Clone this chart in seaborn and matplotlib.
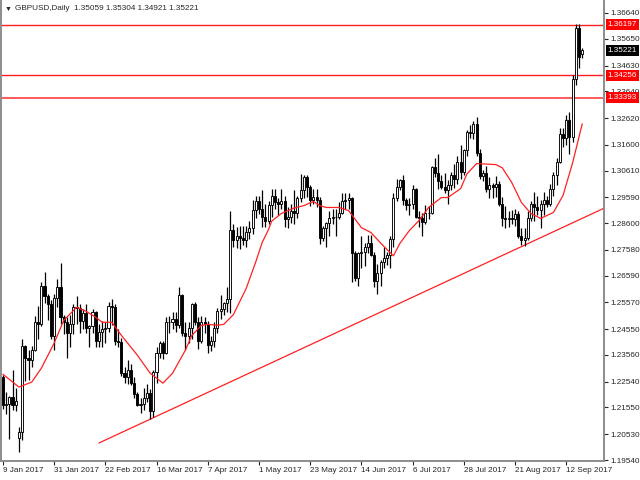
import numpy as np
import pandas as pd
import matplotlib
matplotlib.use("Agg")
import matplotlib.pyplot as plt
import matplotlib.transforms as mtransforms
import seaborn as sns

# GBPUSD daily bars, 9 Jan 2017 .. 19 Sep 2017
dates = pd.bdate_range("2017-01-09", "2017-09-19")

opens = [
    1.2270, 1.2165, 1.2170, 1.2195, 1.2165,  1.2040, 1.2060, 1.2390, 1.2345, 1.2335,
    1.2375, 1.2480, 1.2475, 1.2620, 1.2580,  1.2550, 1.2430, 1.2575, 1.2615, 1.2500,
    1.2480, 1.2440, 1.2475, 1.2540, 1.2535,  1.2485, 1.2515, 1.2460, 1.2465, 1.2520,
    1.2410, 1.2445, 1.2455, 1.2460, 1.2545,  1.2540, 1.2410, 1.2405, 1.2285, 1.2270,
    1.2300, 1.2250, 1.2205, 1.2165, 1.2170,  1.2190, 1.2210, 1.2140, 1.2290, 1.2365,
    1.2400, 1.2365, 1.2480, 1.2480, 1.2495,  1.2470, 1.2585, 1.2440, 1.2430, 1.2460,
    1.2550, 1.2480, 1.2410, 1.2480, 1.2475,  1.2395, 1.2410, 1.2460, 1.2525, 1.2530,
    1.2555, 1.2570, 1.2835, 1.2795, 1.2810,  1.2805, 1.2795, 1.2825, 1.2840, 1.2910,
    1.2945, 1.2915, 1.2885, 1.2870, 1.2930,  1.2965, 1.2940, 1.2935, 1.2945, 1.2875,
    1.2885, 1.2905, 1.2900, 1.2955, 1.2985,  1.3035, 1.3000, 1.2950, 1.2960, 1.2950,
    1.2805, 1.2840, 1.2860, 1.2880, 1.2885,  1.2885, 1.2900, 1.2945, 1.2950, 1.2955,
    1.2745, 1.2650, 1.2745, 1.2750, 1.2770,  1.2785, 1.2740, 1.2640, 1.2670, 1.2710,
    1.2725, 1.2740, 1.2800, 1.2955, 1.3000,  1.3025, 1.2950, 1.2930, 1.2935, 1.2990,
    1.2885, 1.2880, 1.2865, 1.2900, 1.2900,  1.3075, 1.3050, 1.3020, 1.3000, 1.2985,
    1.3005, 1.3045, 1.3030, 1.3095, 1.3055,  1.3140, 1.3210, 1.3205, 1.3240, 1.3130,
    1.3040, 1.3050, 1.2990, 1.3005, 1.3000,  1.3010, 1.2935, 1.2880, 1.2875, 1.2880,
    1.2875, 1.2895, 1.2810, 1.2795, 1.2805,  1.2880, 1.2935, 1.2920, 1.2910, 1.2935,
    1.2950, 1.2935, 1.2990, 1.3045, 1.3095,  1.3200, 1.3185, 1.3255, 1.3190, 1.3410,
    1.3605, 1.35059,
]
highs = [
    1.2280, 1.2215, 1.2200, 1.2300, 1.2230,  1.2080, 1.2417, 1.2395, 1.2375, 1.2390,
    1.2505, 1.2545, 1.2635, 1.2675, 1.2590,  1.2565, 1.2590, 1.2645, 1.2706, 1.2510,
    1.2500, 1.2510, 1.2550, 1.2580, 1.2550,  1.2530, 1.2550, 1.2470, 1.2530, 1.2525,
    1.2475, 1.2485, 1.2480, 1.2560, 1.2570,  1.2550, 1.2455, 1.2420, 1.2310, 1.2335,
    1.2320, 1.2270, 1.2215, 1.2190, 1.2230,  1.2245, 1.2225, 1.2300, 1.2385, 1.2410,
    1.2410, 1.2500, 1.2505, 1.2520, 1.2520,  1.2615, 1.2590, 1.2480, 1.2480, 1.2555,
    1.2560, 1.2500, 1.2505, 1.2500, 1.2485,  1.2430, 1.2480, 1.2535, 1.2585, 1.2560,
    1.2615, 1.2905, 1.2855, 1.2845, 1.2850,  1.2850, 1.2850, 1.2870, 1.2950, 1.2965,
    1.2965, 1.2985, 1.2935, 1.2945, 1.2990,  1.2990, 1.2955, 1.2990, 1.2965, 1.2920,
    1.2935, 1.2985, 1.2965, 1.3048, 1.3045,  1.3045, 1.3005, 1.2990, 1.2990, 1.2960,
    1.2850, 1.2865, 1.2905, 1.2915, 1.2915,  1.2940, 1.2975, 1.2975, 1.2975, 1.2960,
    1.2755, 1.2750, 1.2810, 1.2785, 1.2815,  1.2815, 1.2750, 1.2705, 1.2720, 1.2770,
    1.2750, 1.2810, 1.2975, 1.3030, 1.3030,  1.3045, 1.2955, 1.2955, 1.3005, 1.2995,
    1.2905, 1.2900, 1.2930, 1.2925, 1.3080,  1.3110, 1.3125, 1.3045, 1.3050, 1.3025,
    1.3055, 1.3085, 1.3115, 1.3160, 1.3145,  1.3215, 1.3235, 1.3250, 1.3267, 1.3145,
    1.3065, 1.3080, 1.3035, 1.3015, 1.3040,  1.3020, 1.2960, 1.2925, 1.2905, 1.2910,
    1.2915, 1.2905, 1.2840, 1.2840, 1.2905,  1.2945, 1.2980, 1.2965, 1.2950, 1.2980,
    1.2965, 1.3010, 1.3055, 1.3110, 1.3225,  1.3225, 1.3275, 1.3285, 1.3425, 1.3620,
    1.3620, 1.35304,
]
lows = [
    1.2150, 1.2130, 1.2035, 1.2145, 1.2140,  1.1986, 1.2030, 1.2255, 1.2260, 1.2310,
    1.2370, 1.2415, 1.2465, 1.2555, 1.2490,  1.2415, 1.2375, 1.2540, 1.2475, 1.2435,
    1.2345, 1.2385, 1.2435, 1.2475, 1.2440,  1.2455, 1.2440, 1.2385, 1.2440, 1.2385,
    1.2385, 1.2385, 1.2400, 1.2445, 1.2470,  1.2395, 1.2385, 1.2275, 1.2250, 1.2245,
    1.2240, 1.2190, 1.2160, 1.2135, 1.2145,  1.2175, 1.2110, 1.2120, 1.2250, 1.2345,
    1.2340, 1.2360, 1.2440, 1.2455, 1.2445,  1.2460, 1.2430, 1.2375, 1.2400, 1.2415,
    1.2470, 1.2380, 1.2400, 1.2440, 1.2365,  1.2370, 1.2385, 1.2440, 1.2495, 1.2510,
    1.2520, 1.2515, 1.2770, 1.2765, 1.2760,  1.2775, 1.2770, 1.2800, 1.2820, 1.2880,
    1.2895, 1.2845, 1.2845, 1.2855, 1.2885,  1.2915, 1.2890, 1.2915, 1.2845, 1.2840,
    1.2860, 1.2855, 1.2880, 1.2940, 1.2955,  1.2960, 1.2925, 1.2935, 1.2920, 1.2780,
    1.2790, 1.2770, 1.2810, 1.2855, 1.2810,  1.2875, 1.2895, 1.2915, 1.2915, 1.2635,
    1.2640, 1.2620, 1.2690, 1.2695, 1.2745,  1.2735, 1.2615, 1.2589, 1.2620, 1.2690,
    1.2700, 1.2690, 1.2770, 1.2945, 1.2985,  1.2930, 1.2910, 1.2890, 1.2915, 1.2880,
    1.2845, 1.2810, 1.2855, 1.2875, 1.2895,  1.3035, 1.2990, 1.2990, 1.2975, 1.2935,
    1.2985, 1.2995, 1.3010, 1.3030, 1.3045,  1.3115, 1.3185, 1.3180, 1.3115, 1.3030,
    1.3020, 1.2980, 1.2955, 1.2955, 1.2960,  1.2925, 1.2850, 1.2840, 1.2845, 1.2855,
    1.2850, 1.2805, 1.2775, 1.2774, 1.2795,  1.2870, 1.2870, 1.2890, 1.2840, 1.2890,
    1.2920, 1.2925, 1.2965, 1.3005, 1.3090,  1.3150, 1.3160, 1.3125, 1.3170, 1.3390,
    1.3455, 1.34921,
]
closes = [
    1.2165, 1.2170, 1.2195, 1.2165, 1.2180,  1.2060, 1.2390, 1.2345, 1.2335, 1.2375,
    1.2480, 1.2475, 1.2620, 1.2580, 1.2550,  1.2430, 1.2575, 1.2615, 1.2500, 1.2480,
    1.2440, 1.2475, 1.2540, 1.2535, 1.2485,  1.2515, 1.2460, 1.2465, 1.2520, 1.2410,
    1.2445, 1.2455, 1.2460, 1.2545, 1.2540,  1.2410, 1.2405, 1.2285, 1.2270, 1.2300,
    1.2250, 1.2205, 1.2165, 1.2170, 1.2190,  1.2210, 1.2140, 1.2290, 1.2365, 1.2400,
    1.2365, 1.2480, 1.2480, 1.2495, 1.2470,  1.2585, 1.2440, 1.2430, 1.2460, 1.2550,
    1.2480, 1.2410, 1.2480, 1.2475, 1.2395,  1.2410, 1.2460, 1.2525, 1.2530, 1.2555,
    1.2570, 1.2835, 1.2795, 1.2810, 1.2805,  1.2795, 1.2825, 1.2840, 1.2910, 1.2945,
    1.2915, 1.2885, 1.2870, 1.2930, 1.2965,  1.2940, 1.2935, 1.2945, 1.2875, 1.2885,
    1.2905, 1.2900, 1.2955, 1.2985, 1.3035,  1.3000, 1.2950, 1.2960, 1.2950, 1.2805,
    1.2840, 1.2860, 1.2880, 1.2885, 1.2885,  1.2900, 1.2945, 1.2950, 1.2955, 1.2745,
    1.2650, 1.2745, 1.2750, 1.2770, 1.2785,  1.2740, 1.2640, 1.2670, 1.2710, 1.2725,
    1.2740, 1.2800, 1.2955, 1.3000, 1.3025,  1.2950, 1.2930, 1.2935, 1.2990, 1.2885,
    1.2880, 1.2865, 1.2900, 1.2900, 1.3075,  1.3050, 1.3020, 1.3000, 1.2985, 1.3005,
    1.3045, 1.3030, 1.3095, 1.3055, 1.3140,  1.3210, 1.3205, 1.3240, 1.3130, 1.3040,
    1.3050, 1.2990, 1.3005, 1.3000, 1.3010,  1.2935, 1.2880, 1.2875, 1.2880, 1.2875,
    1.2895, 1.2810, 1.2795, 1.2805, 1.2880,  1.2935, 1.2920, 1.2910, 1.2935, 1.2950,
    1.2935, 1.2990, 1.3045, 1.3095, 1.3200,  1.3185, 1.3255, 1.3190, 1.3410, 1.3605,
    1.3495, 1.35221,
]

# moving average (red curve), sampled along the chart
ma_dates = [
    "2017-01-09", "2017-01-16", "2017-01-20", "2017-01-25", "2017-01-31", "2017-02-03",
    "2017-02-09", "2017-02-14", "2017-02-17", "2017-02-21", "2017-02-24", "2017-03-01",
    "2017-03-08", "2017-03-14", "2017-03-20", "2017-03-23", "2017-03-29", "2017-03-31",
    "2017-04-05", "2017-04-07", "2017-04-12", "2017-04-14", "2017-04-19", "2017-04-25",
    "2017-04-28", "2017-05-02", "2017-05-04", "2017-05-05", "2017-05-10", "2017-05-16",
    "2017-05-19", "2017-05-24", "2017-05-26", "2017-05-30", "2017-06-05", "2017-06-08",
    "2017-06-14", "2017-06-19", "2017-06-22", "2017-06-28", "2017-06-30", "2017-07-05",
    "2017-07-10", "2017-07-13", "2017-07-19", "2017-07-21", "2017-07-27", "2017-07-31",
    "2017-08-03", "2017-08-11", "2017-08-15", "2017-08-18", "2017-08-23", "2017-08-28",
    "2017-08-31", "2017-09-06", "2017-09-11", "2017-09-14", "2017-09-19",
]
ma_values = [
    1.2282, 1.2233, 1.2252, 1.2305, 1.2401, 1.2488,
    1.2538, 1.2523, 1.2500, 1.2481, 1.2481, 1.2431,
    1.2355, 1.2286, 1.2248, 1.2286, 1.2374, 1.2430,
    1.2469, 1.2473, 1.2469, 1.2473, 1.2510, 1.2610,
    1.2712, 1.2786, 1.2836, 1.2868, 1.2897, 1.2918,
    1.2927, 1.2943, 1.2927, 1.2920, 1.2920, 1.2908,
    1.2843, 1.2824, 1.2784, 1.2735, 1.2782, 1.2832,
    1.2870, 1.2920, 1.2958, 1.2958, 1.2992, 1.3049,
    1.3088, 1.3084, 1.3072, 1.3015, 1.2939, 1.2897,
    1.2878, 1.2901, 1.2966, 1.3091, 1.3240,
]

# support trendline anchors and horizontal levels
trend_dates = ["2017-02-20", "2017-08-24"]
trend_values = [1.2019, 1.2776]
levels = [1.36197, 1.34256, 1.33393]
last_price = 1.35221

ytick_values = [1.19540, 1.20530, 1.21550, 1.22540, 1.23560, 1.24550, 1.25570,
                1.26590, 1.27580, 1.28600, 1.29590, 1.30610, 1.31600, 1.32620,
                1.33640, 1.34630, 1.35650, 1.36640]
xtick_every = 16

sns.set_style("white")
plt.rcParams["font.family"] = ["Liberation Sans", "DejaVu Sans"]
FS = 5.9

df = pd.DataFrame({"date": dates, "open": opens, "high": highs,
                   "low": lows, "close": closes})
df["i"] = np.arange(len(df))
bull = df["close"] >= df["open"]

fig = plt.figure(figsize=(6.4, 4.8), dpi=100)
ax = fig.add_axes([1 / 640, 19 / 480, 603 / 640, 461 / 480])

# candles
ax.vlines(df["i"], df["low"], df["high"], color="black", lw=0.9, zorder=3)
body_lo = np.minimum(df["open"], df["close"])
body_h = (df["close"] - df["open"]).abs()
ax.bar(df["i"], body_h, bottom=body_lo, width=0.66,
       color=np.where(bull, "white", "black"), edgecolor="black",
       linewidth=0.65, zorder=4)

# moving average
ma = pd.DataFrame({"i": dates.get_indexer(pd.to_datetime(ma_dates)), "ma": ma_values})
sns.lineplot(data=ma, x="i", y="ma", color="#ff2020", lw=0.9, ax=ax, zorder=5)

# trendline, extended to the right edge
ti = dates.get_indexer(pd.to_datetime(trend_dates))
slope = (trend_values[1] - trend_values[0]) / (ti[1] - ti[0])
x_end = 190
ax.plot([ti[0], x_end], [trend_values[0], trend_values[0] + slope * (x_end - ti[0])],
        color="#ff2020", lw=0.9, zorder=2)

# horizontal levels
for k, lv in enumerate(levels):
    ax.axhline(lv, color="#ff2020" if k < 2 else "#ff5a5a", lw=1.0 if k < 2 else 1.4, zorder=2)

ax.set_xlim(-0.6, 187.8)
ax.set_ylim(1.19502, 1.37136)
ax.set_xlabel("")
ax.set_ylabel("")

xt = list(range(0, len(dates), xtick_every))
ax.set_xticks(xt)
ax.set_xticklabels([f"{dates[t].day} {dates[t].strftime('%b %Y')}" for t in xt],
                   ha="left", fontsize=FS)
ax.yaxis.tick_right()
ax.set_yticks(ytick_values)
ax.set_yticklabels([f"{v:.5f}" for v in ytick_values], fontsize=FS)
ax.tick_params(axis="x", length=3, width=0.8, pad=1.5, direction="out", bottom=True)
ax.tick_params(axis="y", length=3, width=0.8, pad=1.5, direction="out", right=True)

for side in ["left", "right", "bottom"]:
    ax.spines[side].set_visible(True)
    ax.spines[side].set_color("#8c8c8c")
    ax.spines[side].set_linewidth(1.4)
ax.spines["top"].set_visible(False)

# price tags on the right scale
tr = mtransforms.blended_transform_factory(ax.transAxes, ax.transData)
for lv in levels:
    ax.text(1.006, lv, f"{lv:.5f}", transform=tr, color="white", fontsize=FS,
            va="center", ha="left", zorder=10, clip_on=False,
            bbox=dict(boxstyle="square,pad=0.25", fc="#ff0000", ec="none"))
ax.text(1.006, last_price, f"{last_price:.5f}", transform=tr, color="white", fontsize=FS,
        va="center", ha="left", zorder=10, clip_on=False,
        bbox=dict(boxstyle="square,pad=0.25", fc="black", ec="none"))

# header
fig.text(5 / 640, 1 - 9 / 480, "\u25bc", fontsize=5, va="center", ha="left")
fig.text(15 / 640, 1 - 9 / 480,
         f"GBPUSD,Daily  {opens[-1]:.5f} {highs[-1]:.5f} {lows[-1]:.5f} {closes[-1]:.5f}",
         fontsize=FS, va="center", ha="left")

fig.savefig("out.png", dpi=100)
